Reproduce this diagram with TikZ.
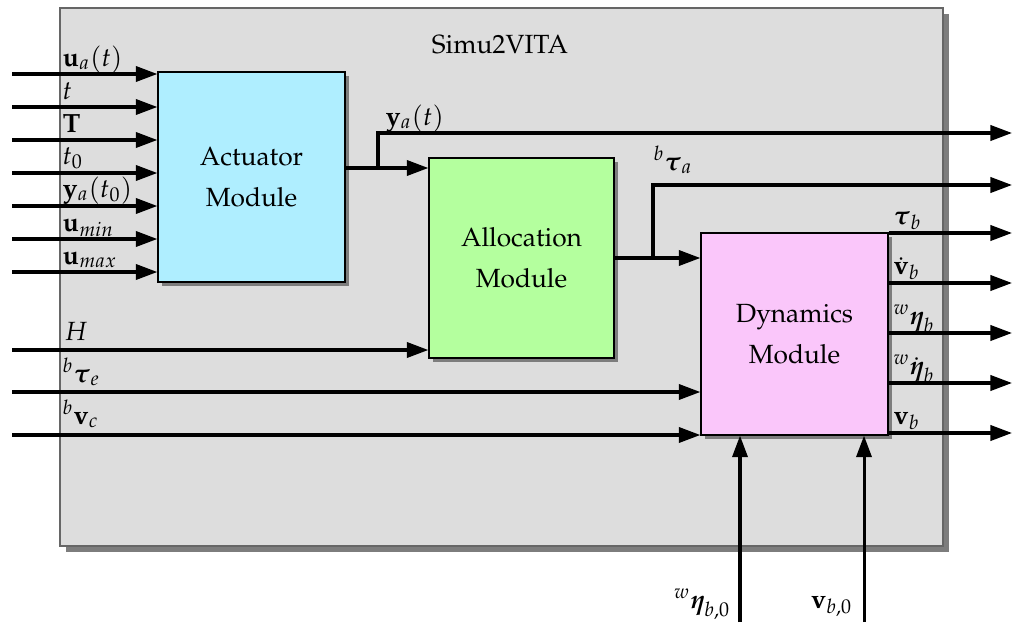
\documentclass[tikz,border=0pt]{standalone}
\usepackage[T1]{fontenc}
\usepackage{mathpazo}
\usepackage{amsmath}
\usetikzlibrary{arrows.meta,shadows}
\definecolor{outercol}{RGB}{221,221,221}
\definecolor{actcol}{RGB}{175,238,255}
\definecolor{alloccol}{RGB}{180,255,158}
\definecolor{dyncol}{RGB}{250,198,250}
\definecolor{shadowcol}{RGB}{125,125,125}
\tikzset{
  modbox/.style={draw=black, line width=0.5pt, align=center, inner sep=0pt,
    drop shadow={shadow xshift=1.5pt, shadow yshift=-1.5pt, fill=shadowcol, opacity=1}},
  sig/.style={line width=1.15pt, -{Triangle[length=8.2pt,width=5.8pt]}},
  lbl/.style={anchor=base west, inner sep=0pt},
  lble/.style={anchor=base east, inner sep=0pt},
}
\begin{document}
\begin{tikzpicture}[x=0.38pt,y=-0.38pt]
\useasboundingbox (0,0) rectangle (1017,622);
% outer frame
\node[draw=black!60, line width=0.4pt, fill=outercol, minimum width=883*0.38pt, minimum height=538*0.38pt, inner sep=0pt,
  drop shadow={shadow xshift=2.3pt, shadow yshift=-2.3pt, fill=shadowcol, opacity=1}]
  (frame) at (501.5,277) {};
\node (title) at (500,45) {Simu2VITA};
% modules
\node[modbox, fill=actcol, minimum width=187*0.38pt, minimum height=210*0.38pt] (act) at (251.5,177) {Actuator\\[3.5pt]Module};
\node[modbox, fill=alloccol, minimum width=185*0.38pt, minimum height=200*0.38pt] (alloc) at (521.5,258) {Allocation\\[3.5pt]Module};
\node[modbox, fill=dyncol, minimum width=187*0.38pt, minimum height=202*0.38pt] (dyn) at (794.5,334) {Dynamics\\[3.5pt]Module};
% input coordinates
\coordinate (i1) at (12,74);
\coordinate (i2) at (12,107);
\coordinate (i3) at (12,140);
\coordinate (i4) at (12,173);
\coordinate (i5) at (12,206);
\coordinate (i6) at (12,239);
\coordinate (i7) at (12,272);
\coordinate (i8) at (12,350);
\coordinate (i9) at (12,392);
\coordinate (i10) at (12,435);
\foreach \k in {1,...,7} { \draw[sig] (i\k) -- (i\k -| act.west); }
\draw[sig] (i8) -- (i8 -| alloc.west);
\draw[sig] (i9) -- (i9 -| dyn.west);
\draw[sig] (i10) -- (i10 -| dyn.west);
\node[lbl] (l1) at (62,66) {$\mathbf{u}_a(t)$};
\node[lbl] (l2) at (62,99) {$t$};
\node[lbl] (l3) at (62,132) {$\mathbf{T}$};
\node[lbl] (l4) at (62,164) {$t_0$};
\node[lbl] (l5) at (62,197) {$\mathbf{y}_a(t_0)$};
\node[lbl] (l6) at (62,231) {$\mathbf{u}_{min}$};
\node[lbl] (l7) at (62,264) {$\mathbf{u}_{max}$};
\node[lbl] (l8) at (64,340) {$H$};
\node[lbl] (l9) at (62,382) {${}^{b}\boldsymbol{\tau}_e$};
\node[lbl] (l10) at (62,424) {${}^{b}\mathbf{v}_c$};
% actuator -> allocation, y_a(t) branch
\coordinate (ya) at (378,168);
\coordinate (o0) at (1012,133);
\draw[sig] (act.east |- ya) -- (ya -| alloc.west);
\draw[sig] (ya) |- (o0);
\node[lbl] (lya) at (385,125) {$\mathbf{y}_a(t)$};
% allocation -> dynamics, tau_a branch
\coordinate (ta) at (653,258);
\coordinate (o1) at (1012,185);
\draw[sig] (alloc.east) -- (alloc.east -| dyn.west);
\draw[sig] (ta) |- (o1);
\node[lbl] (lta) at (653,170) {${}^{b}\boldsymbol{\tau}_a$};
% dynamics outputs
\coordinate (o2) at (1012,233);
\coordinate (o3) at (1012,283);
\coordinate (o4) at (1012,333);
\coordinate (o5) at (1012,383);
\coordinate (o6) at (1012,433);
\foreach \k in {2,...,6} { \draw[sig] (dyn.east |- o\k) -- (o\k); }
\node[lbl] (lo2) at (893,224) {$\boldsymbol{\tau}_b$};
\node[lbl] (lo3) at (893,274) {$\dot{\mathbf{v}}_b$};
\node[lbl] (lo4) at (893,324) {${}^{w}\boldsymbol{\eta}_b$};
\node[lbl] (lo5) at (893,374) {${}^{w}\dot{\boldsymbol{\eta}}_b$};
\node[lbl] (lo6) at (893,424) {$\mathbf{v}_b$};
% bottom inputs
\coordinate (b1) at (740,622);
\coordinate (b2) at (864,622);
\draw[sig] (b1) -- (b1 |- dyn.south);
\draw[sig] (b2) -- (b2 |- dyn.south);
\node[lble] (lb1) at (731,608) {${}^{w}\boldsymbol{\eta}_{b,0}$};
\node[lble] (lb2) at (853,608) {$\mathbf{v}_{b,0}$};
\end{tikzpicture}
\end{document}
